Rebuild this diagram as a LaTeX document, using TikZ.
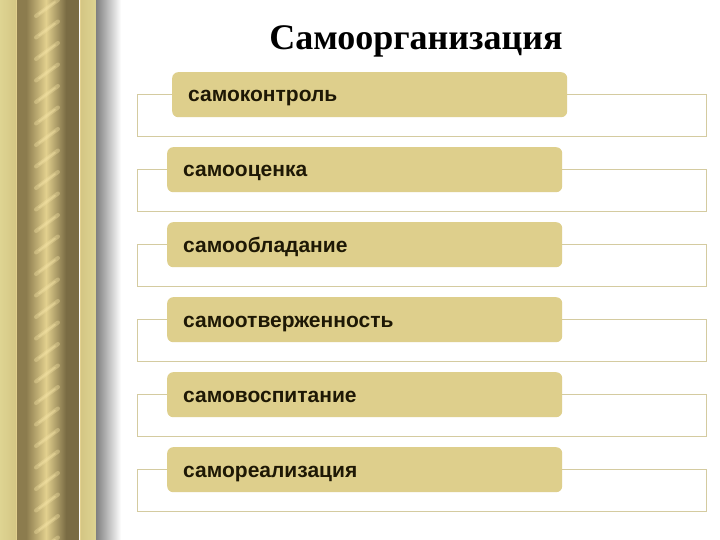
\documentclass[tikz,border=0pt]{standalone}
\usepackage{fontspec}
\setmainfont{Liberation Serif}
\newfontfamily\labfont{Liberation Sans}
\definecolor{beige}{RGB}{222,207,140}
\definecolor{outl}{RGB}{212,203,160}
\definecolor{labtxt}{RGB}{30,24,5}
\definecolor{goldA}{RGB}{222,212,146}
\definecolor{goldB}{RGB}{140,124,78}
\definecolor{goldC}{RGB}{226,208,142}
\definecolor{goldD}{RGB}{122,108,68}
\definecolor{goldE}{RGB}{212,198,132}
\definecolor{streak}{RGB}{245,228,165}
\tikzset{
  outlinebox/.style={draw=outl, line width=1.4pt, fill=white},
  itembox/.style={fill=beige, rounded corners=6pt},
  itemlabel/.style={anchor=base west, inner sep=0pt, text=labtxt, font=\labfont\bfseries\fontsize{21}{25}\selectfont},
}
\begin{document}
\begin{tikzpicture}[x=1pt,y=-1pt]
\useasboundingbox (0,0) rectangle (720,540);
\fill[white] (0,0) rectangle (720,540);
% left decorative column
\shade[left color=goldA, right color=goldE] (0,0) rectangle (16,540);
\draw[goldC, line width=0.8pt] (16,0) -- (16,540);
\fill[goldB] (17,0) rectangle (26,540);
\shade[left color=goldB, right color=goldC] (26,0) rectangle (46,540);
\shade[left color=goldC, right color=goldD] (46,0) rectangle (66,540);
\fill[goldD] (66,0) rectangle (79,540);
\draw[goldC, line width=0.8pt] (80,0) -- (80,540);
\shade[left color=goldE, right color=goldA] (81,0) rectangle (96,540);
\shade[left color=black!50, right color=white] (96,0) rectangle (121,540);
\foreach \k in {0,...,25} {
  \draw[streak, opacity=0.35, line width=4pt, line cap=round]
    (36,{\k*21.5+16}) -- (58,{\k*21.5});
  \draw[streak, opacity=0.4, line width=1.6pt, line cap=round]
    (39,{\k*21.5+14}) -- (55,{\k*21.5+2});
}
% title
\node[font=\bfseries\fontsize{36}{42}\selectfont, anchor=base] (title) at (416,50) {Самоорганизация};
% rows
\foreach \i/\dx/\lab in {0/5/самоконтроль,1/0/самооценка,2/0/самообладание,3/0/самоотверженность,4/0/самовоспитание,5/0/самореализация} {
  \pgfmathsetmacro{\top}{72+75*\i}
  \node[outlinebox, inner sep=0pt, anchor=north west, minimum width=569pt, minimum height=42pt] (out\i) at (137,{\top+22}) {};
  \node[itembox, inner sep=0pt, anchor=north west, minimum width=395pt, minimum height=45pt] (box\i) at ({167+\dx},\top) {};
  \node[itemlabel] (lab\i) at ({183+\dx},{\top+30}) {\lab};
}
\end{tikzpicture}
\end{document}
